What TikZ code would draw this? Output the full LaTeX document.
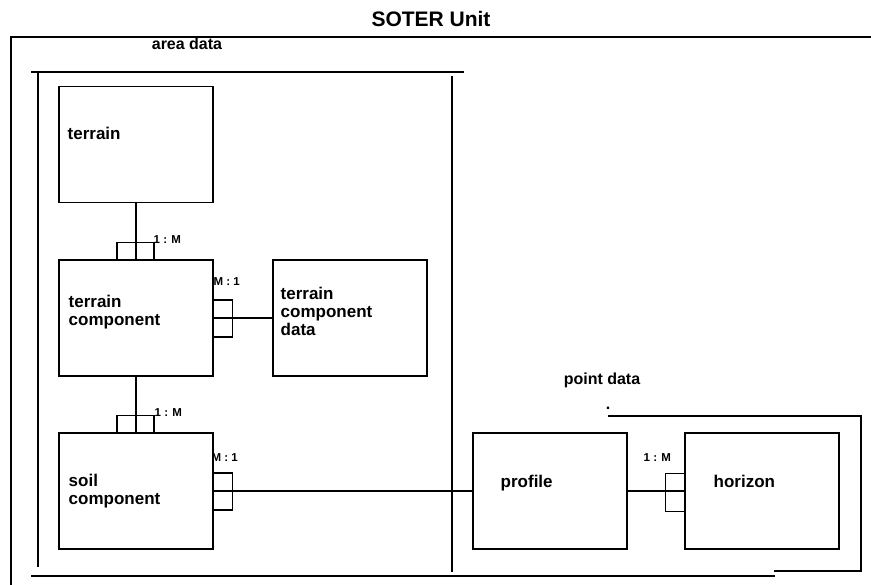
\documentclass[tikz,border=0pt]{standalone}
\usepackage{fontspec}
\setmainfont{Liberation Sans}
\usepackage{tikz}
\usetikzlibrary{calc}

\begin{document}
\begin{tikzpicture}[x=1pt,y=-1pt,line width=1.4pt,
        entity/.style={draw,rectangle,minimum width=154pt,minimum height=116pt,inner sep=0pt},
        entname/.style={font=\bfseries\fontsize{17}{18}\selectfont,align=left,anchor=base west,inner sep=0pt},
        card/.style={font=\bfseries\fontsize{11.5}{12}\selectfont,anchor=base west,inner sep=0pt},
        framelbl/.style={font=\bfseries\fontsize{16}{18}\selectfont,anchor=base,inner sep=0pt}]
        \useasboundingbox (0,0) rectangle (871,585);
        % frames
        \node[framelbl,font=\bfseries\fontsize{21}{24}\selectfont] (unit) at (431,27) {SOTER Unit};
        \draw (10,37) -- (871,37) (11,37) -- (11,585);
        \node[framelbl] (area) at (187,50) {area data};
        \draw (31,72) -- (464,72) (38,73) -- (38,567) (452,76) -- (452,572) (31,576) -- (775,576);
        \node[framelbl] (point) at (602,385) {point data};
        \node[framelbl] (dot) at (608,410) {.};
        \draw (608,416) -- (861,416) -- (861,571) -- (774,571);
        % entities
        \node[entity] (terrain) at (136,144.5) {};
        \node[entity] (tcomp) at (136,318) {};
        \node[entity] (tcdata) at (350,318) {};
        \node[entity] (soil) at (136,491) {};
        \node[entity] (profile) at (550,491) {};
        \node[entity] (horizon) at (762,491) {};
        % base of a multi-line name is its last line
        \node[entname] (terrainlbl) at (67,140) {terrain};
        \node[entname] (tcomplbl) at (68,326) {terrain\\component};
        \node[entname] (tcdatalbl) at (280,336) {terrain\\component\\data};
        \node[entname] (soillbl) at (68,504) {soil\\component};
        \node[entname] (profilelbl) at (500,488) {profile};
        \node[entname] (horizonlbl) at (713,487) {horizon};
        % relations
        \draw (terrain) -- (tcomp);
        \draw (tcomp) -- (soil);
        \draw (tcomp) -- (tcdata);
        \draw (soil) -- (profile);
        \draw (profile) -- (horizon);
        \foreach \ent in {tcomp, soil} {
            \draw ($(\ent.north)+(-19,0)$) -- ++(0,-17) -- ++(37,0) -- ++(0,17);
            \draw ($(\ent.east)+(0,-18)$) -- ++(19,0) -- ++(0,37) -- ++(-19,0);}
        \draw ($(horizon.west)+(0,-17.5)$) -- ++(-19,0) -- ++(0,38) -- ++(19,0);
        \node[card] (c1) at (153,244) {1 : M};
        \node[card] (c2) at (154,417) {1 : M};
        \node[card] (c3) at (213,286) {M : 1};
        \node[card] (c4) at (211,461) {M : 1};
        \node[card] (c5) at (643,462) {1 : M};
\end{tikzpicture}
\end{document}
